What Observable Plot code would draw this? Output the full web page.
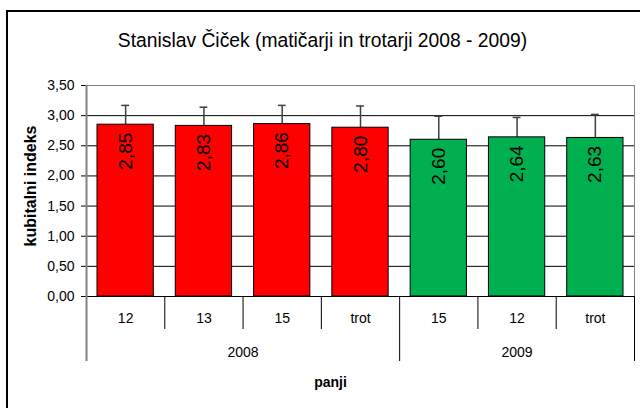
<!DOCTYPE html>
<html><head><meta charset="utf-8">
<script src="https://cdn.jsdelivr.net/npm/d3@7"></script>
<script src="https://cdn.jsdelivr.net/npm/@observablehq/plot@0.6"></script>
<style>
body{margin:0;background:#fff;}
#wrap{position:relative;width:640px;height:408px;overflow:hidden;}
#border{position:absolute;left:6px;top:10px;width:700px;height:500px;border:2px solid #000;box-sizing:border-box;}
#chart{position:absolute;left:0;top:0;}
</style></head><body><div id="wrap"><div id="border"></div><div id="chart"></div></div>
<script>
const title = "Stanislav Čiček (matičarji in trotarji 2008 - 2009)";
const yLabel = "kubitalni indeks";
const xLabel = "panji";
const years = ["2008","2008","2008","2008","2009","2009","2009"];
const panji = ["12","13","15","trot","15","12","trot"];
const values = [2.85,2.83,2.86,2.80,2.60,2.64,2.63];
const errPlus = [0.32,0.31,0.31,0.36,0.39,0.33,0.39];
const yearColors = {"2008":"#FF0000","2009":"#00B050"};
const yTicks = [0,0.5,1,1.5,2,2.5,3,3.5];
const yearGroups = ["2008","2009"];

const data = values.map((v,i)=>({i, year: years[i], panj: panji[i], value: v, top: v+errPlus[i]}));
const groups = yearGroups.map(y => {
  const idx = data.filter(d=>d.year===y).map(d=>d.i);
  return {year:y, start:d3.min(idx), end:d3.max(idx)+1};
});
const groupEnds = groups.map(g=>g.end);
const innerBounds = data.map(d=>d.i).filter(i=>i>0 && !groups.some(g=>g.start===i));
const fmt = d => d.toFixed(2).replace(".", ",");
const font = "'Liberation Sans', Arial, sans-serif";

const chart = Plot.plot({
  width: 640, height: 408,
  marginLeft: 86, marginRight: 6, marginTop: 85, marginBottom: 112,
  style: {fontFamily: font, fontSize: "14px", color: "#000", background: "transparent"},
  x: {type: "linear", domain: [0, values.length]},
  y: {domain: [0, 3.5]},
  marks: [
    Plot.ruleY(yTicks.slice(0, -1), {stroke: "#000", strokeWidth: 1}),
    Plot.frame({stroke: "#808080"}),
    Plot.axisY({ticks: yTicks, tickFormat: fmt, tickSize: 5, tickPadding: 7, label: null, fontSize: 14}),
    Plot.ruleX(data, {x: d=>d.i+0.5, y1: "value", y2: "top", stroke: "#404040", strokeWidth: 1.5}),
    Plot.ruleY(data, {y: "top", x1: d=>d.i+0.45, x2: d=>d.i+0.55, stroke: "#404040", strokeWidth: 1.5}),
    Plot.rectY(data, {x1: "i", x2: d=>d.i+1, y: "value", fill: d=>yearColors[d.year], stroke: "#000", strokeWidth: 1, insetLeft: 11, insetRight: 11}),
    Plot.text(data, {x: d=>d.i+0.5, y: "value", text: d=>fmt(d.value), rotate: -90, textAnchor: "end", dy: 8, fontSize: 19}),
    Plot.ruleY([0], {stroke: "#000", strokeWidth: 1}),
    Plot.axisX({ticks: innerBounds, tickSize: 33, tickFormat: () => "", label: null}),
    Plot.axisX({ticks: groupEnds, tickSize: 65, tickFormat: () => "", label: null}),
    Plot.axisX({ticks: [0], tickSize: 65, stroke: "#808080", strokeWidth: 2, tickFormat: () => "", label: null}),
    Plot.ruleX([0], {stroke: "#808080", strokeWidth: 2}),
    Plot.axisX({ticks: data.map(d=>d.i+0.5), tickSize: 0, tickPadding: 17, tickFormat: d => panji[Math.floor(d)], label: null, fontSize: 14}),
    Plot.axisX({ticks: groups.map(g=>(g.start+g.end)/2), tickSize: 0, tickPadding: 51, tickFormat: d => groups.find(g=>g.start<d && g.end>d).year, label: null, fontSize: 14}),
    Plot.text([title], {text: d=>d, frameAnchor: "top", lineAnchor: "middle", textAnchor: "middle", dy: -45, dx: -38, fontSize: 19.3}),
    Plot.text([xLabel], {text: d=>d, frameAnchor: "bottom", lineAnchor: "middle", textAnchor: "middle", dy: 86, dx: -30, fontWeight: "bold", fontSize: 14}),
    Plot.text([yLabel], {text: d=>d, frameAnchor: "left", lineAnchor: "middle", textAnchor: "middle", dx: -56, dy: -5, rotate: -90, fontWeight: "bold", fontSize: 16})
  ]
});
document.getElementById("chart").appendChild(chart);
</script></body></html>
